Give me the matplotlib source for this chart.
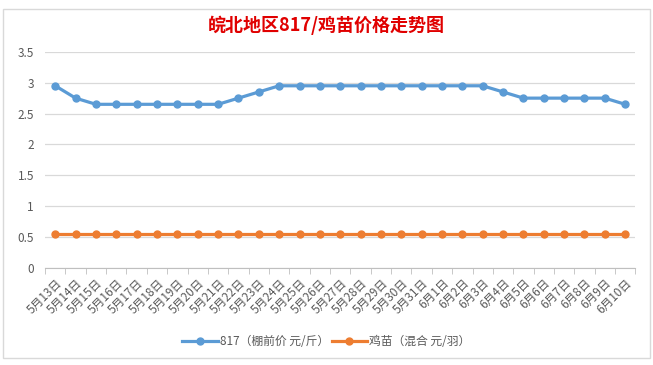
import matplotlib
matplotlib.use('Agg')
import matplotlib.pyplot as plt
from matplotlib.patches import Rectangle

plt.rcParams['font.family'] = ['Noto Sans CJK SC', 'DejaVu Sans']

dates = ['5月13日', '5月14日', '5月15日', '5月16日', '5月17日', '5月18日', '5月19日',
         '5月20日', '5月21日', '5月22日', '5月23日', '5月24日', '5月25日', '5月26日',
         '5月27日', '5月28日', '5月29日', '5月30日', '5月31日', '6月1日', '6月2日',
         '6月3日', '6月4日', '6月5日', '6月6日', '6月7日', '6月8日', '6月9日', '6月10日']
price_817 = [2.95, 2.75, 2.65, 2.65, 2.65, 2.65, 2.65, 2.65, 2.65, 2.75, 2.85,
             2.95, 2.95, 2.95, 2.95, 2.95, 2.95, 2.95, 2.95, 2.95, 2.95, 2.95,
             2.85, 2.75, 2.75, 2.75, 2.75, 2.75, 2.65]
price_chick = [0.55] * len(dates)

blue = '#5B9BD5'
orange = '#ED7D31'
gray = '#595959'

fig = plt.figure(figsize=(6.53, 3.65), dpi=100)
fig.patches.append(Rectangle((0.005, 0.02), 0.99, 0.955, transform=fig.transFigure,
                             fill=False, edgecolor='#d9d9d9', linewidth=1))
ax = fig.add_axes([0.069, 0.266, 0.904, 0.592])

x = list(range(len(dates)))
ax.plot(x, price_817, color=blue, linewidth=2.3, marker='o', markersize=5,
        label='817（棚前价 元/斤）')
ax.plot(x, price_chick, color=orange, linewidth=2.3, marker='o', markersize=5,
        label='鸡苗（混合 元/羽）')

ax.set_ylim(0, 3.5)
ax.set_yticks([0, 0.5, 1, 1.5, 2, 2.5, 3, 3.5])
ax.set_yticklabels(['0', '0.5', '1', '1.5', '2', '2.5', '3', '3.5'])
ax.set_xlim(-0.5, len(dates) - 0.5)
ax.set_xticks(x)
ax.set_xticklabels(dates, rotation=45, ha='right', rotation_mode='anchor')
ax.set_xticks([i - 0.5 for i in range(len(dates) + 1)], minor=True)
ax.tick_params(axis='x', which='major', length=0, pad=6, labelsize=8.5, labelcolor=gray)
ax.tick_params(axis='x', which='minor', length=4, color='#bfbfbf', direction='out')
ax.tick_params(axis='y', length=0, labelsize=8.5, labelcolor=gray, pad=8)
ax.grid(axis='y', color='#d9d9d9', linewidth=0.9)
ax.set_axisbelow(True)
for s in ['left', 'right', 'top']:
    ax.spines[s].set_visible(False)
ax.spines['bottom'].set_color('#bfbfbf')

fig.text(0.5, 0.93, '皖北地区817/鸡苗价格走势图', ha='center', va='center',
         color='#E00000', fontsize=13, fontweight='bold')

fig.legend(loc='center', bbox_to_anchor=(0.5, 0.065), ncol=2, frameon=False,
           fontsize=8.5, labelcolor=gray, handlelength=3, columnspacing=0.2,
           handletextpad=0.2)

fig.savefig('out.png', dpi=100)
